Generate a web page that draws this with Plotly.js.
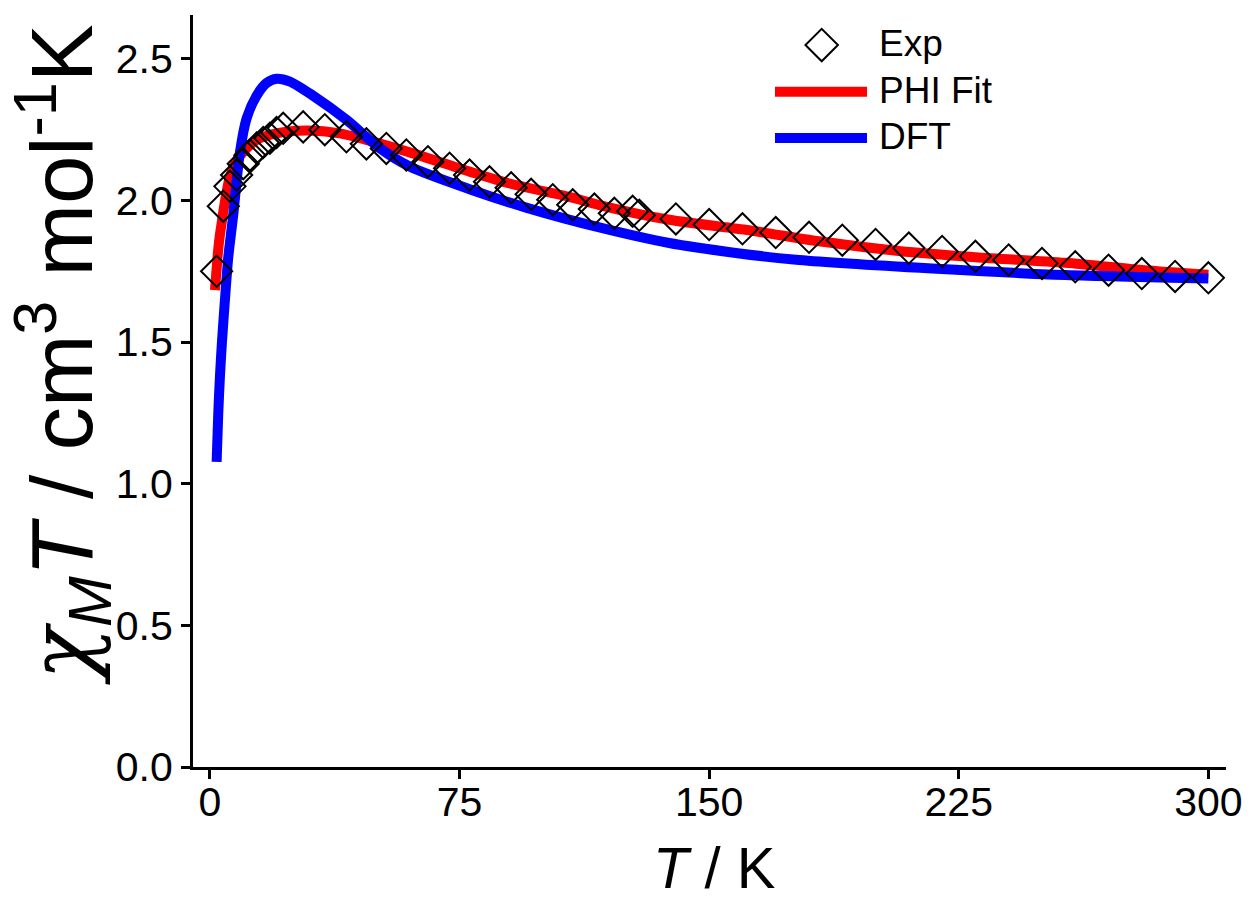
<!DOCTYPE html>
<html>
<head>
<meta charset="utf-8">
<script src="https://cdn.plot.ly/plotly-3.0.1.min.js"></script>
<style>
  html, body { margin: 0; padding: 0; background: #ffffff; }
  #chart { width: 1249px; height: 903px; }
</style>
</head>
<body>
<div id="chart"></div>
<script>
// ---- Data ----
const expT = [2, 4, 6, 8, 10, 12, 14, 16, 18, 20, 22, 28, 34.5, 41, 47, 53, 59, 65.5, 72, 78, 84, 90.5, 96.5, 103, 109, 115.5, 121.5, 127, 129, 140, 150, 160, 170, 180, 190, 200, 210, 220, 230, 240, 250, 260, 270, 280, 290, 300];
const expChiT = [1.75, 1.98, 2.05, 2.09, 2.13, 2.16, 2.185, 2.205, 2.22, 2.24, 2.255, 2.26, 2.25, 2.225, 2.20, 2.184, 2.161, 2.137, 2.114, 2.09, 2.066, 2.045, 2.022, 2.003, 1.985, 1.97, 1.955, 1.962, 1.948, 1.935, 1.915, 1.90, 1.887, 1.87, 1.86, 1.845, 1.832, 1.82, 1.803, 1.79, 1.778, 1.766, 1.754, 1.742, 1.732, 1.727];

const fitT = [1.5, 2, 2.5, 3, 3.5, 4, 5, 6, 8, 10.5, 14, 20, 29, 39, 47, 60, 78, 90, 108, 117, 138, 162, 183, 207, 230, 257, 280, 300];
const fitChiT = [1.684, 1.76, 1.83, 1.88, 1.92, 1.96, 2.03, 2.084, 2.14, 2.178, 2.214, 2.237, 2.247, 2.237, 2.214, 2.17, 2.102, 2.06, 2.013, 1.984, 1.932, 1.895, 1.856, 1.822, 1.80, 1.78, 1.755, 1.738];

const dftT = [2, 2.5, 3, 3.6, 4.5, 5.5, 7, 9, 11, 14, 17, 20, 24, 31, 41, 51, 60, 78, 95, 117, 138, 158, 177, 217, 257, 300];
const dftChiT = [1.077, 1.25, 1.38, 1.5, 1.65, 1.8, 1.95, 2.17, 2.29, 2.37, 2.415, 2.43, 2.42, 2.37, 2.285, 2.185, 2.12, 2.04, 1.975, 1.905, 1.85, 1.815, 1.79, 1.76, 1.737, 1.725];

const seriesNames = ["Exp", "PHI Fit", "DFT"];
const xTickVals = [0, 75, 150, 225, 300];
const yTickVals = [0.0, 0.5, 1.0, 1.5, 2.0, 2.5];

// ---- Styling ----
const FONT = "Liberation Sans, Arial, sans-serif";
const RED = "#ff0000";
const BLUE = "#0000ff";

const traces = [
  {
    x: fitT, y: fitChiT, type: "scatter", mode: "lines", name: seriesNames[1],
    line: { color: RED, width: 10, shape: "spline", smoothing: 0.8 },
    showlegend: false, hoverinfo: "skip"
  },
  {
    x: dftT, y: dftChiT, type: "scatter", mode: "lines", name: seriesNames[2],
    line: { color: BLUE, width: 10, shape: "spline", smoothing: 0.8 },
    showlegend: false, hoverinfo: "skip"
  },
  {
    x: expT, y: expChiT, type: "scatter", mode: "markers", name: seriesNames[0],
    marker: { symbol: "diamond-open", size: 24, color: "#000000", line: { color: "#000000", width: 2 } },
    showlegend: false, hoverinfo: "skip"
  },
  // legend samples on a hidden overlay axis (0..1 = plot area)
  {
    x: [0.6086], y: [0.960], xaxis: "x2", yaxis: "y2", type: "scatter", mode: "markers",
    marker: { symbol: "diamond-open", size: 25, color: "#000000", line: { color: "#000000", width: 2 } },
    showlegend: false, hoverinfo: "skip"
  },
  {
    x: [0.5634, 0.6525], y: [0.898, 0.898], xaxis: "x2", yaxis: "y2", type: "scatter", mode: "lines",
    line: { color: RED, width: 10 }, showlegend: false, hoverinfo: "skip"
  },
  {
    x: [0.5634, 0.6525], y: [0.8364, 0.8364], xaxis: "x2", yaxis: "y2", type: "scatter", mode: "lines",
    line: { color: BLUE, width: 10 }, showlegend: false, hoverinfo: "skip"
  }
];

const legendText = [
  { text: seriesNames[0], y: 0.962 },
  { text: seriesNames[1], y: 0.900 },
  { text: seriesNames[2], y: 0.8384 }
].map(o => ({
  xref: "paper", yref: "paper", x: 0.6622, y: o.y, xanchor: "left", yanchor: "middle",
  text: o.text, showarrow: false, font: { family: FONT, size: 37, color: "#000" }
}));

const yTitle = {
  xref: "paper", yref: "paper", x: -0.126, y: 0.548, xanchor: "center", yanchor: "middle",
  textangle: -90, showarrow: false,
  text: "<i><span style='font-family:DejaVu Serif'>χ</span><sub>M</sub>T</i> / cm<sup>3</sup> mol<sup>-1</sup>K",
  font: { family: FONT, size: 87, color: "#000" }
};

const xTitle = {
  xref: "paper", yref: "paper", x: 0.5053, y: -0.1330, xanchor: "center", yanchor: "middle",
  showarrow: false, text: "<i>T</i> / K",
  font: { family: FONT, size: 58, color: "#000" }
};

const layout = {
  width: 1249, height: 903,
  paper_bgcolor: "#ffffff", plot_bgcolor: "#ffffff",
  margin: { l: 193, r: 23, t: 15, b: 136 },
  showlegend: false,
  font: { family: FONT, color: "#000" },
  xaxis: {
    range: [-5.1, 305.3], tickvals: xTickVals, ticktext: xTickVals.map(String),
    showgrid: false, zeroline: false, showline: true, linecolor: "#000", linewidth: 3,
    ticks: "outside", ticklen: 9, tickwidth: 3, tickcolor: "#000", ticklabelstandoff: -12,
    tickfont: { family: FONT, size: 41, color: "#000" }
  },
  yaxis: {
    range: [0, 2.655], tickvals: yTickVals, ticktext: yTickVals.map(v => v.toFixed(1)),
    showgrid: false, zeroline: false, showline: true, linecolor: "#000", linewidth: 3,
    ticks: "outside", ticklen: 9, tickwidth: 3, tickcolor: "#000",
    tickfont: { family: FONT, size: 41, color: "#000" }
  },
  xaxis2: { overlaying: "x", range: [0, 1], visible: false, fixedrange: true },
  yaxis2: { overlaying: "y", range: [0, 1], visible: false, fixedrange: true },
  annotations: legendText.concat([yTitle, xTitle])
};

Plotly.newPlot("chart", traces, layout, { staticPlot: true, displayModeBar: false });
</script>
</body>
</html>
